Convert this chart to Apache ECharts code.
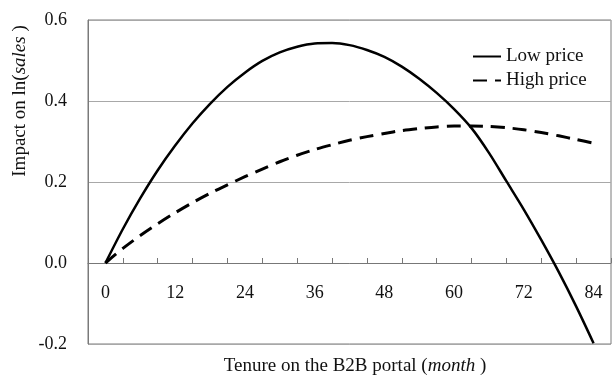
<!DOCTYPE html>
<html>
<head>
<meta charset="utf-8">
<script src="https://cdn.jsdelivr.net/npm/echarts@6/dist/echarts.min.js"></script>
<style>
html,body{margin:0;padding:0;background:#fff;}
#chart{width:614px;height:378px;}
</style>
</head>
<body>
<div id="chart"></div>
<script>
// Months on the B2B portal
var months = [0,3,6,9,12,15,18,21,24,27,30,33,36,39,42,45,48,51,54,57,60,63,66,69,72,75,78,81,84];
// Impact on ln(sales)
var lowPrice = [0,0.084,0.160,0.229,0.290,0.345,0.393,0.435,0.470,0.499,0.520,0.534,0.542,0.543,0.538,0.526,0.509,0.485,0.455,0.420,0.380,0.333,0.272,0.202,0.132,0.057,-0.022,-0.107,-0.198];
var highPrice = [0,0.036,0.068,0.097,0.124,0.149,0.172,0.193,0.213,0.232,0.250,0.266,0.280,0.292,0.303,0.312,0.320,0.327,0.332,0.336,0.338,0.338,0.337,0.334,0.329,0.322,0.314,0.305,0.296];
var xTickLabels = [0,12,24,36,48,60,72,84];
var seriesNames = ['Low price','High price'];

var FONT = 'Liberation Serif';
function pairs(xs, ys){ return xs.map(function(x,i){ return [x, ys[i]]; }); }

var chart = echarts.init(document.getElementById('chart'), null, {renderer:'canvas'});
chart.setOption({
  animation:false,
  backgroundColor:'#fff',
  textStyle:{fontFamily:FONT},
  grid:{left:88, top:20, right:-3, bottom:34, show:true, borderColor:'#7a7a7a', borderWidth:1, backgroundColor:'transparent'},
  legend:{
    orient:'vertical', left:472, top:47, padding:0, itemWidth:28, itemHeight:14, itemGap:5,
    itemStyle:{opacity:0, color:'transparent', borderWidth:0},
    textStyle:{fontFamily:FONT, fontSize:19, color:'#111'},
    data:seriesNames
  },
  xAxis:[{
    type:'value', min:-3, max:87, interval:6, position:'bottom',
    axisLine:{show:true, onZero:true, lineStyle:{color:'#777', width:1}},
    axisTick:{show:true, inside:true, length:5, lineStyle:{color:'#777'}},
    axisLabel:{show:false}, splitLine:{show:false}
  },{
    type:'value', min:-3, max:87, interval:3, position:'bottom', offset:-81,
    axisLine:{show:false, onZero:false},
    axisTick:{show:false}, splitLine:{show:false},
    axisLabel:{show:true, margin:21, fontFamily:FONT, fontSize:18, color:'#111',
      formatter:function(v){ return xTickLabels.indexOf(v) >= 0 ? String(v) : ''; }}
  }],
  yAxis:{
    type:'value', min:-0.2, max:0.6, interval:0.2, position:'left',
    axisLine:{show:true, onZero:false, lineStyle:{color:'#7a7a7a'}},
    axisTick:{show:false},
    splitLine:{show:true, lineStyle:{color:'#a8a8a8', width:1}},
    axisLabel:{margin:21, fontFamily:FONT, fontSize:18, color:'#111',
      formatter:function(v){ return v.toFixed(1); }}
  },
  series:[{
    name:seriesNames[0], type:'line', xAxisIndex:0, data:pairs(months, lowPrice),
    smooth:0.3, symbol:'none', lineStyle:{color:'#000', width:2.5}, itemStyle:{color:'#000'}
  },{
    name:seriesNames[1], type:'line', xAxisIndex:0, data:pairs(months, highPrice),
    smooth:0.3, symbol:'none', lineStyle:{color:'#000', width:3, type:[14,8]}, itemStyle:{color:'#000'}
  }],
  graphic:[{
    type:'text', x:20, y:101, rotation:Math.PI/2,
    style:{
      text:'{n|Impact on ln(}{i|sales}{n| )}',
      align:'center', verticalAlign:'middle',
      rich:{
        n:{fontFamily:FONT, fontSize:19, fill:'#111'},
        i:{fontFamily:FONT, fontSize:19, fontStyle:'italic', fill:'#111'}
      }
    }
  },{
    type:'text', x:355, y:366,
    style:{
      text:'{n|Tenure on the B2B portal (}{i|month}{n| )}',
      align:'center', verticalAlign:'middle',
      rich:{
        n:{fontFamily:FONT, fontSize:19, fill:'#111'},
        i:{fontFamily:FONT, fontSize:19, fontStyle:'italic', fill:'#111'}
      }
    }
  }]
});
</script>
</body>
</html>
